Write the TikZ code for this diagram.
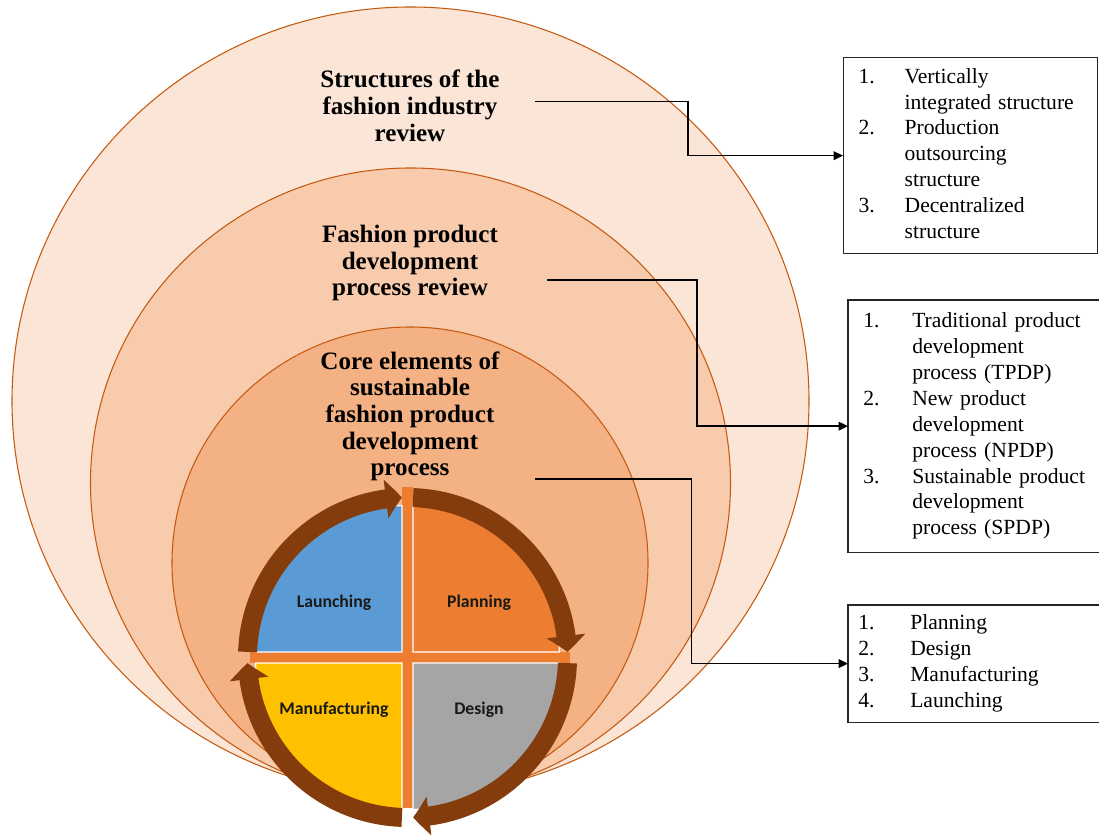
\documentclass[tikz,border=0pt]{standalone}
\usepackage{fontspec}
\setmainfont{Liberation Serif}
\newfontfamily\labelfont{Carlito}
\usetikzlibrary{arrows.meta,bending,calc}
\definecolor{ring1}{HTML}{FBE5D6}
\definecolor{ring2}{HTML}{F8CBAD}
\definecolor{ring3}{HTML}{F4B183}
\definecolor{ringline}{HTML}{C55A11}
\definecolor{cyblue}{HTML}{5B9BD5}
\definecolor{cyorange}{HTML}{ED7D31}
\definecolor{cygrey}{HTML}{A5A5A5}
\definecolor{cygold}{HTML}{FFC000}
\definecolor{cybrown}{HTML}{843C0C}

\begin{document}
\begin{tikzpicture}[x=0.75pt,y=0.75pt,
  ring/.style={draw=ringline,line width=0.8pt},
  title/.style={align=center,font=\fontsize{18.8}{20}\selectfont\bfseries,inner sep=0pt},
  quad/.style={draw=white,line width=0.8pt},
  qlabel/.style={font=\labelfont\bfseries\fontsize{13.3}{16}\selectfont,text=black!90,inner sep=0pt},
  cyarrow/.style={draw=cybrown,line width=14.25pt,-{Triangle[width=28.5pt,length=12pt,bend]}},
  conn/.style={draw=black,line width=1pt,-{Triangle[length=7pt,width=6.5pt]}},
  listbox/.style={anchor=north west,align=left,inner ysep=0pt,font=\fontsize{16.2}{19.4}\selectfont},
  boxline/.style={draw=black!85,line width=1pt}
]
\useasboundingbox (0,0) rectangle (1099,836);

% nested rings, all resting on the same bottom point
\draw[ring,fill=ring1] (410.5,435) ellipse [x radius=398.5,y radius=394];
\draw[ring,fill=ring2] (410.5,353) ellipse [x radius=320,y radius=315];
\draw[ring,fill=ring3] (410,273) ellipse [x radius=238,y radius=236];

% ring titles
\node[title] (t1) at (410,730.2) {Structures of the\\fashion industry\\review};
\node[title] (t2) at (410,572.7) {Fashion product\\development\\process review};
\node[title] (t3) at (410,419.5) {Core elements of\\sustainable\\fashion product\\development\\process};

% list boxes
\node[listbox,boxline,inner xsep=11.25pt,text width=168pt,minimum height=147pt] (box1) at (843,779)
  {\begin{tabular}{@{}p{34.5pt}@{}l@{}}
   1. & Vertically\\
      & integrated structure\\
   2. & Production\\
      & outsourcing\\
      & structure\\
   3. & Decentralized\\
      & structure
   \end{tabular}};
\node[listbox,inner xsep=11.25pt,text width=165.75pt,minimum height=188.8pt] (box2) at (848,536)
  {\begin{tabular}{@{}p{36.75pt}@{}l@{}}
   1. & Traditional product\\
      & development\\
      & process (TPDP)\\
   2. & New product\\
      & development\\
      & process (NPDP)\\
   3. & Sustainable product\\
      & development\\
      & process (SPDP)
   \end{tabular}};
\node[listbox,inner xsep=7.5pt,text width=173.25pt,minimum height=87.5pt] (box3) at (848,231)
  {\begin{tabular}{@{}p{39pt}@{}l@{}}
   1. & Planning\\
   2. & Design\\
   3. & Manufacturing\\
   4. & Launching
   \end{tabular}};
\draw[boxline] (box2.north east) -- (box2.north west) -- (box2.south west) -- (box2.south east);
\draw[boxline] (box3.north east) -- (box3.north west) -- (box3.south west) -- (box3.south east);

% elbow connectors from each ring to its list
\coordinate (s1) at (535,734.2);
\coordinate (s2) at (547,556);
\coordinate (s3) at (535,357);
\draw[conn] (s1) -- ++(153,0) |- (box1.west);
\draw[conn] (s2) -- ++(150,0) |- (box2.west);
\draw[conn] (s3) -- ++(156.7,0) |- (box3.west);

% four-step cycle
\coordinate (C) at (407.5,178.5);
\fill[cyorange] ($(C)+(-5.5,-150.5)$) rectangle ($(C)+(5.5,170.5)$);
\fill[cyorange] ($(C)+(-157.5,-5.5)$) rectangle ($(C)+(162.5,5.5)$);

\filldraw[quad,fill=cyblue] ($(C)+(177.93:152)$) arc[start angle=177.93,end angle=92.07,radius=152] -- ($(C)+(-5.5,5.5)$) -- cycle;
\filldraw[quad,fill=cyorange] ($(C)+(87.93:152)$) arc[start angle=87.93,end angle=2.07,radius=152] -- ($(C)+(5.5,5.5)$) -- cycle;
\filldraw[quad,fill=cygrey] ($(C)+(-2.07:152)$) arc[start angle=-2.07,end angle=-87.93,radius=152] -- ($(C)+(5.5,-5.5)$) -- cycle;
\filldraw[quad,fill=cygold] ($(C)+(-92.07:152)$) arc[start angle=-92.07,end angle=-177.93,radius=152] -- ($(C)+(-5.5,-5.5)$) -- cycle;

\node[qlabel] (q1) at (334,233) {Launching};
\node[qlabel] (q2) at (479,233) {Planning};
\node[qlabel] (q3) at (479,126) {Design};
\node[qlabel] (q4) at (334,126) {Manufacturing};

\draw[cyarrow] ($(C)+(178:160)$) arc[start angle=178,end angle=92,radius=160];
\draw[cyarrow] ($(C)+(88:160)$) arc[start angle=88,end angle=2,radius=160];
\draw[cyarrow] ($(C)+(-2:160)$) arc[start angle=-2,end angle=-88,radius=160];
\draw[cyarrow] ($(C)+(-92:160)$) arc[start angle=-92,end angle=-178,radius=160];
\end{tikzpicture}
\end{document}
